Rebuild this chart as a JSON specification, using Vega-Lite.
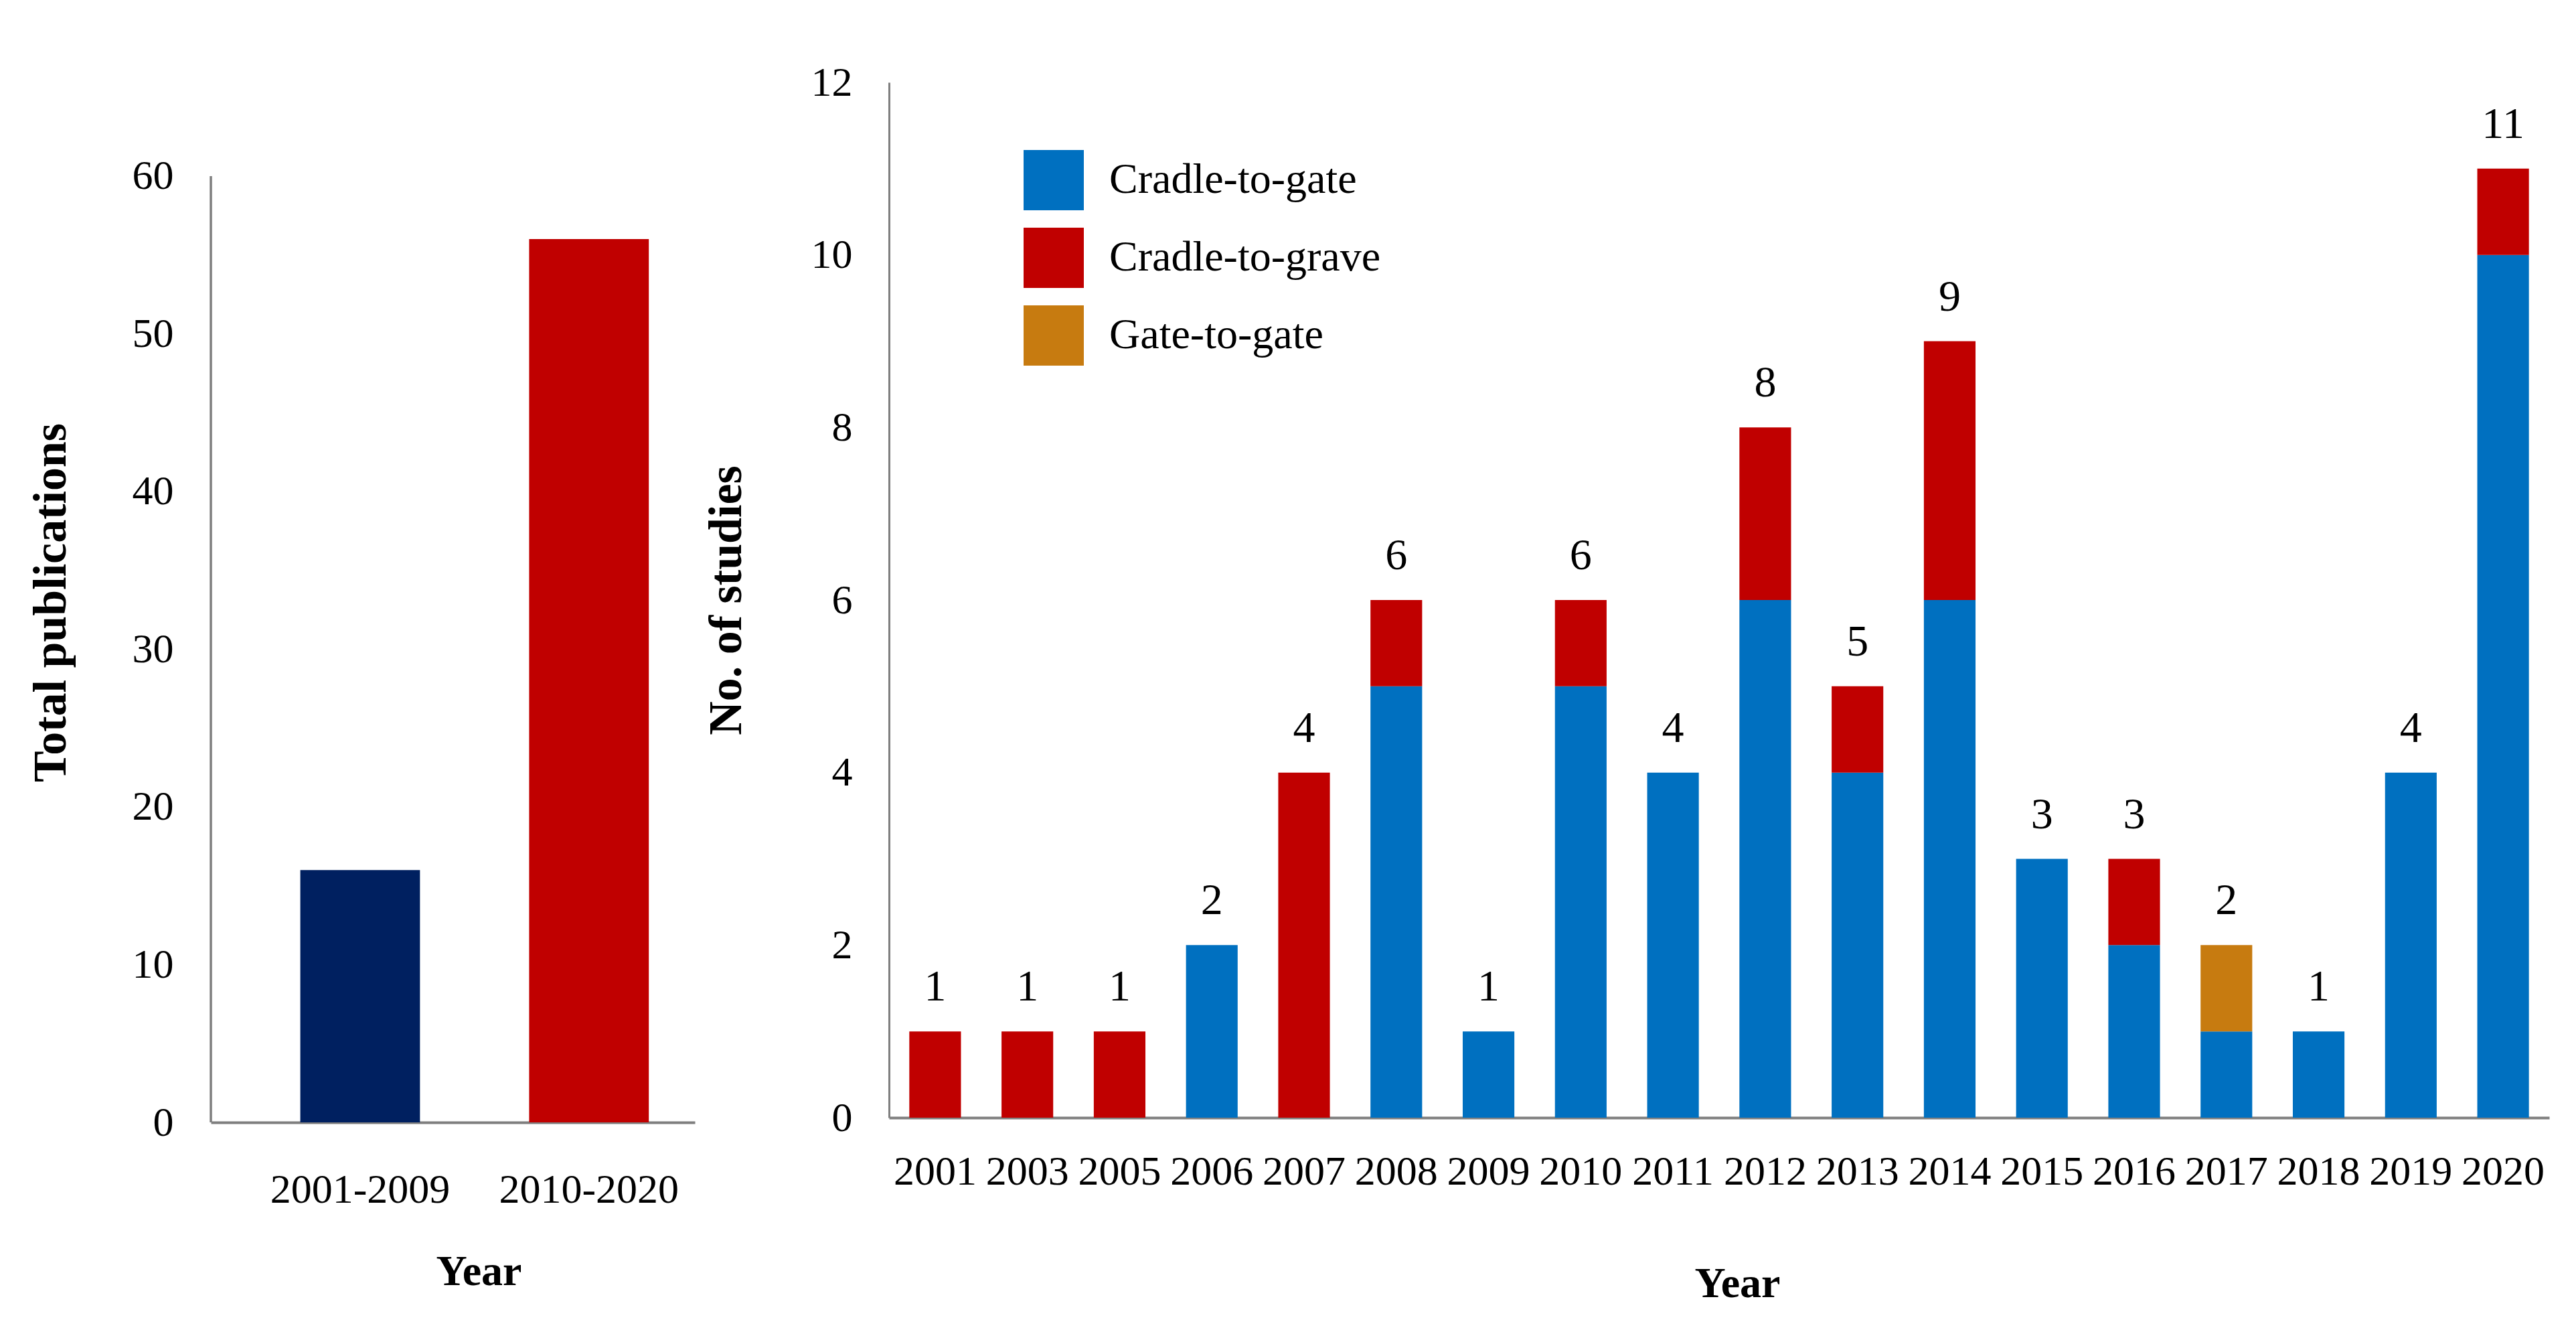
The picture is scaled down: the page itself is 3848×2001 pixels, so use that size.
{
  "$schema": "https://vega.github.io/schema/vega-lite/v6.json",
  "background": "white",
  "padding": {"left": 41, "top": 92, "right": 20, "bottom": 20},
  "spacing": 12,
  "config": {
    "view": {"stroke": null},
    "font": "Liberation Serif",
    "axis": {
      "domainColor": "#7f7f7f",
      "domainWidth": 4,
      "labelColor": "black",
      "titleColor": "black",
      "labelFont": "Liberation Serif",
      "titleFont": "Liberation Serif",
      "titleFontWeight": "bold",
      "labelFontSize": 62,
      "labelLimit": 0,
      "grid": false,
      "ticks": false
    },
    "text": {"font": "Liberation Serif", "color": "black"}
  },
  "resolve": {"scale": {"color": "independent"}, "legend": {"color": "independent"}},
  "hconcat": [
    {
      "width": 723,
      "height": 1553,
      "data": {"values": [
        {"period": "2001-2009", "publications": 16},
        {"period": "2010-2020", "publications": 56}
      ]},
      "layer": [
        {
          "mark": {"type": "bar"},
          "encoding": {
            "x": {
              "field": "period", "type": "nominal",
              "scale": {"paddingInner": 0.477, "paddingOuter": 0.296, "align": 0.66},
              "axis": {"title": "Year", "labelAngle": 0, "labelPadding": 70, "titlePadding": 60, "titleFontSize": 64, "titleX": 400}
            },
            "y": {
              "field": "publications", "type": "quantitative",
              "scale": {"domain": [0, 65.94], "nice": false},
              "axis": {"title": "Total publications", "values": [0, 10, 20, 30, 40, 50, 60], "format": "d", "domain": false, "labelPadding": 56, "titlePadding": 85, "titleFontSize": 70}
            },
            "color": {
              "field": "period", "type": "nominal",
              "scale": {"domain": ["2001-2009", "2010-2020"], "range": ["#002060", "#C00000"]},
              "legend": null
            }
          }
        },
        {
          "mark": {"type": "rule", "color": "#7f7f7f", "strokeWidth": 3},
          "encoding": {
            "x": {"datum": 0, "type": "quantitative", "scale": {"domain": [0, 1]}, "axis": null},
            "y": {"datum": 0, "type": "quantitative"},
            "y2": {"datum": 60}
          }
        }
      ],
      "resolve": {"scale": {"x": "independent"}}
    },
    {
      "width": 2480,
      "height": 1546,
      "data": {"values": [
        {"year": "2001", "type": "Cradle-to-grave", "n": 1},
        {"year": "2003", "type": "Cradle-to-grave", "n": 1},
        {"year": "2005", "type": "Cradle-to-grave", "n": 1},
        {"year": "2006", "type": "Cradle-to-gate", "n": 2},
        {"year": "2007", "type": "Cradle-to-grave", "n": 4},
        {"year": "2008", "type": "Cradle-to-gate", "n": 5},
        {"year": "2008", "type": "Cradle-to-grave", "n": 1},
        {"year": "2009", "type": "Cradle-to-gate", "n": 1},
        {"year": "2010", "type": "Cradle-to-gate", "n": 5},
        {"year": "2010", "type": "Cradle-to-grave", "n": 1},
        {"year": "2011", "type": "Cradle-to-gate", "n": 4},
        {"year": "2012", "type": "Cradle-to-gate", "n": 6},
        {"year": "2012", "type": "Cradle-to-grave", "n": 2},
        {"year": "2013", "type": "Cradle-to-gate", "n": 4},
        {"year": "2013", "type": "Cradle-to-grave", "n": 1},
        {"year": "2014", "type": "Cradle-to-gate", "n": 6},
        {"year": "2014", "type": "Cradle-to-grave", "n": 3},
        {"year": "2015", "type": "Cradle-to-gate", "n": 3},
        {"year": "2016", "type": "Cradle-to-gate", "n": 2},
        {"year": "2016", "type": "Cradle-to-grave", "n": 1},
        {"year": "2017", "type": "Cradle-to-gate", "n": 1},
        {"year": "2017", "type": "Gate-to-gate", "n": 1},
        {"year": "2018", "type": "Cradle-to-gate", "n": 1},
        {"year": "2019", "type": "Cradle-to-gate", "n": 4},
        {"year": "2020", "type": "Cradle-to-gate", "n": 10},
        {"year": "2020", "type": "Cradle-to-grave", "n": 1}
      ]},
      "encoding": {
        "x": {
          "field": "year", "type": "ordinal",
          "scale": {"paddingInner": 0.44, "paddingOuter": 0.22},
          "axis": {"title": "Year", "labelAngle": 0, "labelPadding": 50, "titlePadding": 105, "titleFontSize": 64, "titleX": 1267}
        }
      },
      "layer": [
        {
          "mark": {"type": "bar"},
          "encoding": {
            "y": {
              "field": "n", "type": "quantitative", "stack": "zero",
              "scale": {"domain": [0, 12], "nice": false},
              "axis": {"title": "No. of studies", "values": [0, 2, 4, 6, 8, 10, 12], "format": "d", "labelPadding": 55, "titlePadding": 90, "titleFontSize": 70, "domainWidth": 3}
            },
            "color": {
              "field": "type", "type": "nominal",
              "scale": {"domain": ["Cradle-to-gate", "Cradle-to-grave", "Gate-to-gate"], "range": ["#0070C0", "#C00000", "#C77B10"]},
              "legend": {
                "title": null, "orient": "none", "legendX": 201, "legendY": 101,
                "symbolType": "square", "symbolSize": 8100, "symbolStrokeWidth": 0, "symbolOpacity": 1,
                "labelFontSize": 64, "labelFont": "Liberation Serif", "labelColor": "black", "labelLimit": 0,
                "rowPadding": 26, "labelOffset": 38, "padding": 0
              }
            },
            "order": {"field": "type", "sort": "ascending"}
          }
        },
        {
          "mark": {"type": "text", "dy": -66, "fontSize": 66, "baseline": "middle"},
          "encoding": {
            "y": {"aggregate": "sum", "field": "n", "type": "quantitative"},
            "text": {"aggregate": "sum", "field": "n", "type": "quantitative"}
          }
        }
      ]
    }
  ]
}
